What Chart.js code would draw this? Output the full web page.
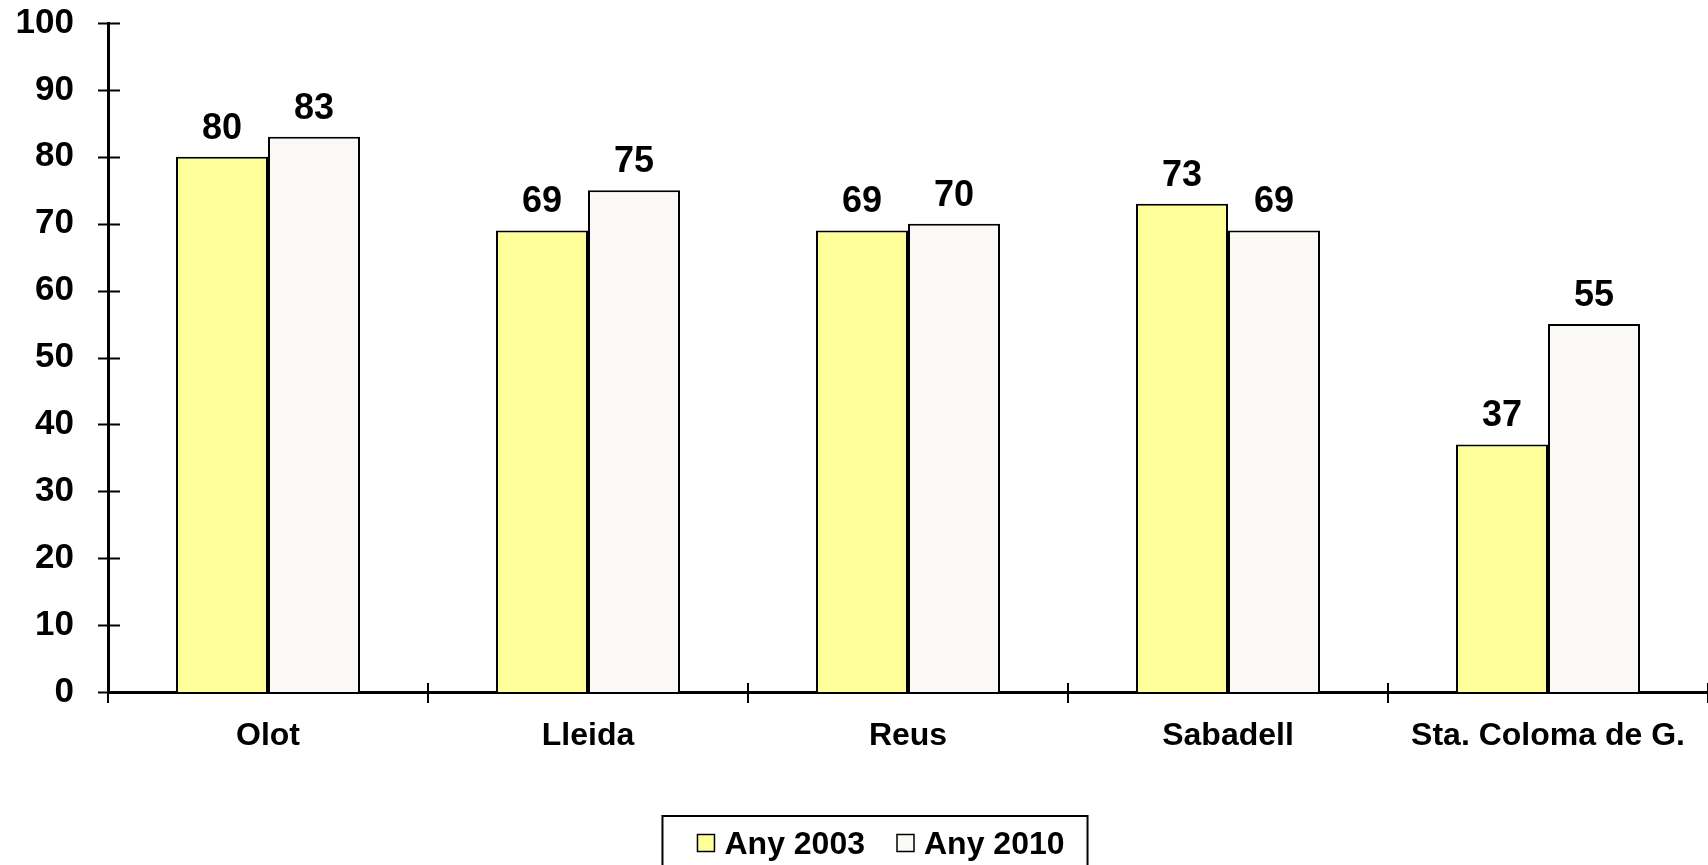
<!DOCTYPE html>
<html>
<head>
<meta charset="utf-8">
<script src="https://cdn.jsdelivr.net/npm/chart.js@4"></script>
<style>
  html, body { margin: 0; padding: 0; background: #fff; }
  #wrap { width: 1708px; height: 865px; }
</style>
</head>
<body>
<div id="wrap"><canvas id="chart" width="1708" height="865"></canvas></div>
<script>
// ==== Data ====
const cities = ['Olot', 'Lleida', 'Reus', 'Sabadell', 'Sta. Coloma de G.'];
const year2003 = [80, 69, 69, 73, 37];
const year2010 = [83, 75, 70, 69, 55];
const yTicks = [0, 10, 20, 30, 40, 50, 60, 70, 80, 90, 100];

const FONT = '"Liberation Sans", Arial, sans-serif';

// ==== Axis ticks crossing the axis lines ====
const crossTicks = {
  id: 'crossTicks',
  afterDraw(chart) {
    const ctx = chart.ctx;
    const xs = chart.scales.x;
    const ys = chart.scales.y;
    ctx.save();
    ctx.strokeStyle = '#000';
    ctx.lineWidth = 2;
    ctx.beginPath();
    yTicks.forEach(v => {
      const y = Math.round(ys.getPixelForValue(v)) + 0.5;
      ctx.moveTo(ys.right - 10, y);
      ctx.lineTo(ys.right + 12, y);
    });
    const n = cities.length;
    for (let i = 0; i <= n; i++) {
      const x = Math.round(xs.left + i * xs.width / n);
      ctx.moveTo(x, xs.top - 9);
      ctx.lineTo(x, xs.top + 11);
    }
    ctx.stroke();
    ctx.restore();
  }
};

// ==== Value labels above bars ====
const valueLabels = {
  id: 'valueLabels',
  afterDatasetsDraw(chart) {
    const ctx = chart.ctx;
    ctx.save();
    ctx.font = 'bold 36px ' + FONT;
    ctx.fillStyle = '#000';
    ctx.textAlign = 'center';
    ctx.textBaseline = 'alphabetic';
    chart.data.datasets.forEach((ds, di) => {
      chart.getDatasetMeta(di).data.forEach((bar, i) => {
        ctx.fillText(String(ds.data[i]), bar.x, bar.y - 18);
      });
    });
    ctx.restore();
  }
};

// ==== Boxed legend at the bottom ====
const boxedLegend = {
  id: 'boxedLegend',
  afterDraw(chart) {
    const ctx = chart.ctx;
    const sets = chart.data.datasets;
    ctx.save();
    ctx.font = 'bold 32px ' + FONT;
    const box = 17, gap = 10, spacing = 32;
    const widths = sets.map(ds => box + gap + ctx.measureText(ds.label).width);
    const total = widths.reduce((a, b) => a + b, 0) + spacing * (sets.length - 1);
    const cx = 881;
    const cy = 845;
    let x = cx - total / 2;
    // frame
    ctx.strokeStyle = '#000';
    ctx.lineWidth = 2;
    ctx.strokeRect(x - 35, 816, total + 58, 80);
    ctx.textBaseline = 'middle';
    ctx.textAlign = 'left';
    sets.forEach((ds, i) => {
      ctx.fillStyle = ds.backgroundColor;
      ctx.fillRect(x, cy - box / 2 - 2, box, box);
      ctx.lineWidth = 1.5;
      ctx.strokeStyle = '#000';
      ctx.strokeRect(x, cy - box / 2 - 2, box, box);
      ctx.fillStyle = '#000';
      ctx.fillText(ds.label, x + box + gap, cy);
      x += widths[i] + spacing;
    });
    ctx.restore();
  }
};

new Chart(document.getElementById('chart'), {
  type: 'bar',
  data: {
    labels: cities,
    datasets: [
      {
        label: 'Any 2003',
        data: year2003,
        backgroundColor: '#FFFF99',
        borderColor: '#000',
        borderWidth: 2,
        categoryPercentage: 0.575,
        barPercentage: 1
      },
      {
        label: 'Any 2010',
        data: year2010,
        backgroundColor: '#FAF9F5',
        borderColor: '#000',
        borderWidth: 2,
        categoryPercentage: 0.575,
        barPercentage: 1
      }
    ]
  },
  options: {
    responsive: false,
    animation: false,
    layout: { padding: { top: 23, left: 0, right: 0, bottom: 0 } },
    plugins: {
      legend: { display: false },
      tooltip: { enabled: false }
    },
    scales: {
      x: {
        grid: { display: false, drawTicks: false },
        border: { color: '#000', width: 3 },
        afterFit(scale) {
          scale.height = 865 - 692;
          scale.paddingLeft = 0;
          scale.paddingRight = 0;
        },
        ticks: {
          color: '#000',
          padding: 25,
          maxRotation: 0,
          font: { family: FONT, size: 32, weight: 'bold' }
        }
      },
      y: {
        min: 0,
        max: 100,
        grid: { display: false, drawTicks: false },
        border: { color: '#000', width: 3 },
        afterBuildTicks(scale) {
          scale.ticks = yTicks.map(v => ({ value: v }));
        },
        afterFit(scale) {
          scale.width = 108;
          scale.paddingTop = 0;
          scale.paddingBottom = 0;
        },
        ticks: {
          color: '#000',
          padding: 34,
          font: { family: FONT, size: 35, weight: 'bold' }
        }
      }
    }
  },
  plugins: [crossTicks, valueLabels, boxedLegend]
});
</script>
</body>
</html>
